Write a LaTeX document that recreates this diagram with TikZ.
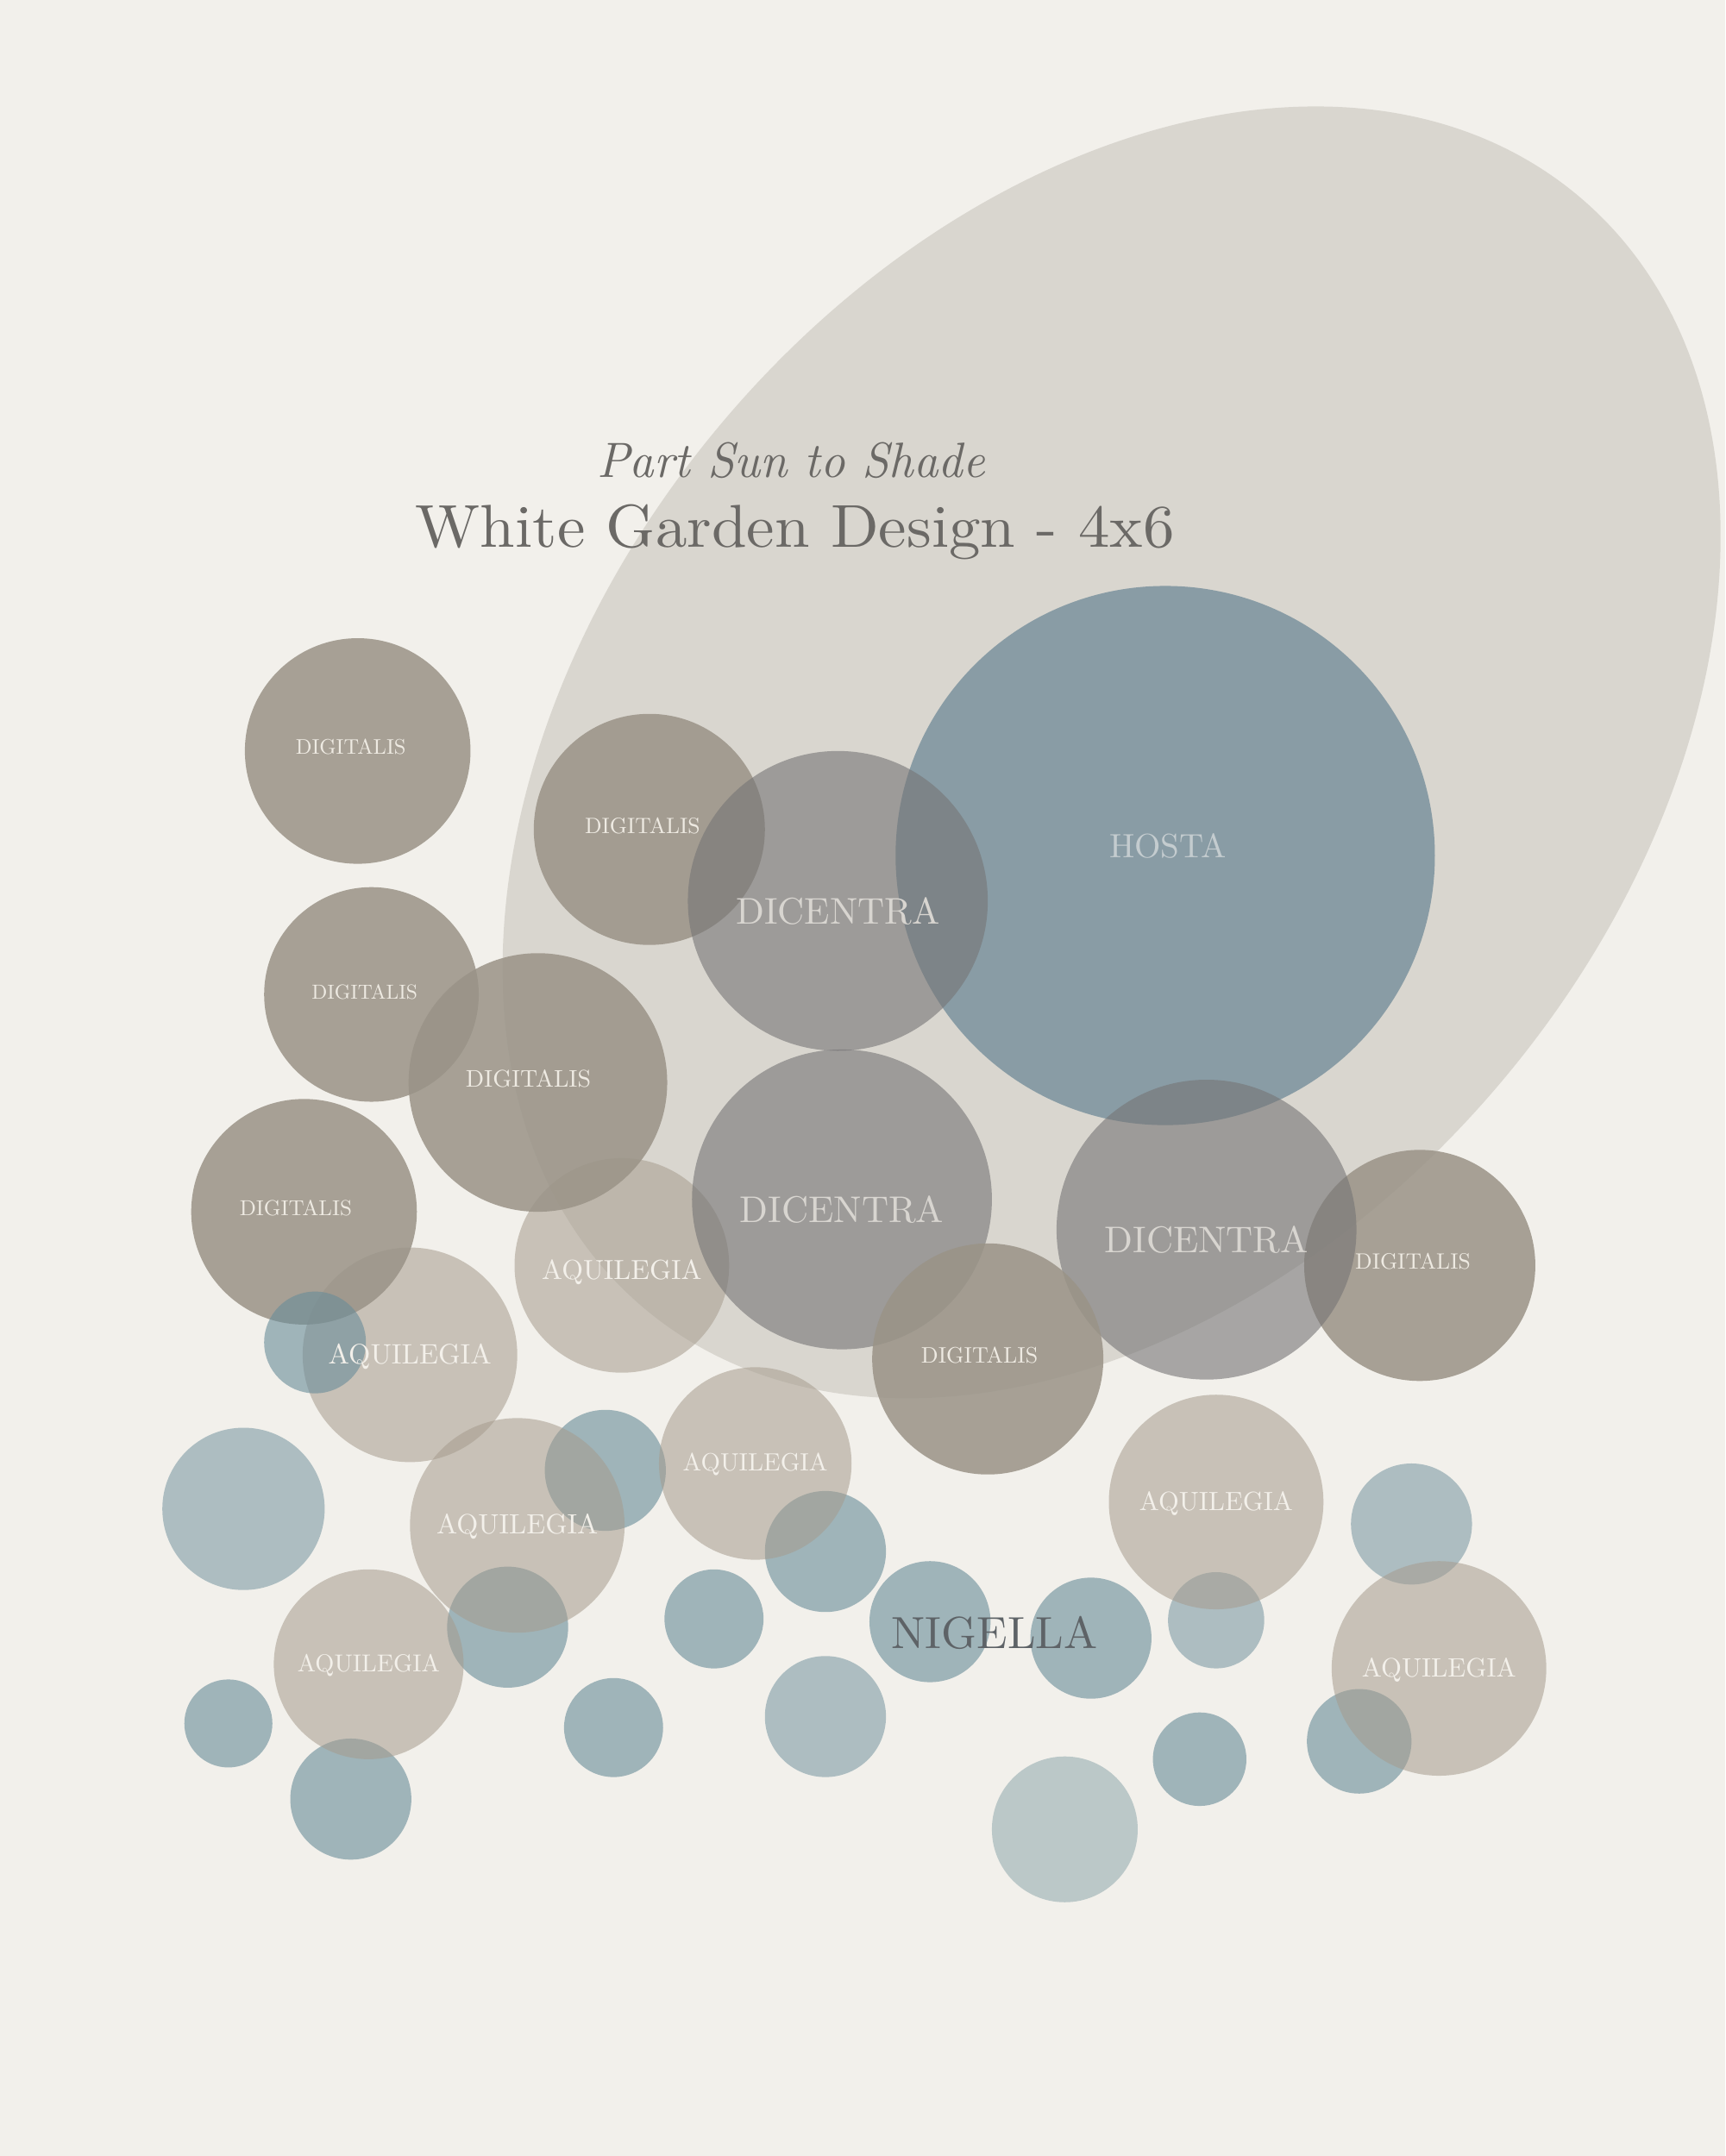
\documentclass[tikz,border=0pt]{standalone}
\usepackage{fontspec}
\setmainfont{lmroman10-regular.otf}[ItalicFont=lmroman10-italic.otf]
\definecolor{bgcol}{HTML}{F2F0EB}
\definecolor{ellcol}{HTML}{D9D6CF}
\definecolor{digicol}{RGB}{154,147,135}
\definecolor{diccol}{RGB}{117,116,117}
\definecolor{hostacol}{RGB}{124,147,158}
\definecolor{aqcol}{RGB}{166,156,142}
\definecolor{nigcol}{RGB}{105,140,153}
\definecolor{nigpale}{RGB}{112,145,152}
\definecolor{titlecol}{HTML}{6B6966}
\definecolor{digilabcol}{HTML}{EEEAE2}
\definecolor{diclabcol}{HTML}{D8D5D0}
\definecolor{hostalabcol}{HTML}{C4CCCF}
\definecolor{aqlabcol}{HTML}{F3F0EA}
\definecolor{niglabcol}{HTML}{5E6367}
\begin{document}
\begin{tikzpicture}[x=1pt,y=-1pt,
  digi/.style={fill=digicol, fill opacity=0.85},
  dic/.style={fill=diccol, fill opacity=0.6},
  hosta/.style={fill=hostacol, fill opacity=0.85},
  aqui/.style={fill=aqcol, fill opacity=0.55},
  nigdark/.style={fill=nigcol, fill opacity=0.6},
  niglight/.style={fill=nigcol, fill opacity=0.5},
  nigpalest/.style={fill=nigpale, fill opacity=0.42},
  lab/.style={inner sep=0pt, text depth=0pt, anchor=center},
  digilab/.style={lab, text=digilabcol},
  diclab/.style={lab, text=diclabcol, font=\fontsize{27}{27}\selectfont},
  aqlab/.style={lab, text=aqlabcol},
  titletext/.style={inner sep=0pt, anchor=base, text=titlecol}
]
\useasboundingbox (0,0) rectangle (1254,1567.5);
\fill[bgcol] (0,0) rectangle (1254,1567.5);
% large background ellipse
\fill[ellcol, rotate around={50:(808,547)}] (808,547) ellipse[x radius=528pt, y radius=371pt];

% Nigella (small blue circles)
\fill[niglight] (177,1097) circle[radius=59pt];
\fill[nigdark] (440,1069) circle[radius=44pt];
\fill[nigdark] (600,1128) circle[radius=44pt];
\fill[nigdark] (369,1183) circle[radius=44pt];
\fill[nigdark] (519,1177) circle[radius=36pt];
\fill[nigdark] (676,1179) circle[radius=44pt];
\fill[nigdark] (793,1191) circle[radius=44pt];
\fill[niglight] (884,1178) circle[radius=35pt];
\fill[niglight] (1026,1108) circle[radius=44pt];
\fill[nigdark] (166,1253) circle[radius=32pt];
\fill[nigdark] (255,1308) circle[radius=44pt];
\fill[nigdark] (446,1256) circle[radius=36pt];
\fill[niglight] (600,1248) circle[radius=44pt];
\fill[nigpalest] (774,1330) circle[radius=53pt];
\fill[nigdark] (872,1279) circle[radius=34pt];
\fill[nigdark] (988,1266) circle[radius=38pt];

% Aquilegia
\fill[aqui] (452,920) circle[radius=78pt];
\fill[aqui] (298,985) circle[radius=78pt];
\fill[aqui] (549,1064) circle[radius=70pt];
\fill[aqui] (376,1109) circle[radius=78pt];
\fill[aqui] (268,1210) circle[radius=69pt];
\fill[aqui] (884,1092) circle[radius=78pt];
\fill[aqui] (1046,1213) circle[radius=78pt];

% Digitalis
\fill[digi] (260,546) circle[radius=82pt];
\fill[digi] (472,603) circle[radius=84pt];
\fill[digi] (270,723) circle[radius=78pt];
\fill[digi] (391,787) circle[radius=94pt];
\fill[digi] (221,881) circle[radius=82pt];
\fill[digi] (1032,920) circle[radius=84pt];

\fill[nigdark] (229,976) circle[radius=37pt];

% Hosta
\fill[hosta] (847,622) circle[radius=196pt];

% Dicentra
\fill[dic] (609,655) circle[radius=109pt];
\fill[dic] (612,872) circle[radius=109pt];
\fill[dic] (877,894) circle[radius=109pt];

\fill[digi] (718,988) circle[radius=84pt];

% Labels
\node[digilab, font=\fontsize{15.4}{15.4}\selectfont] (dg1) at (255,543) {DIGITALIS};
\node[digilab, font=\fontsize{16.1}{16.1}\selectfont] (dg2) at (467,600) {DIGITALIS};
\node[digilab, font=\fontsize{14.8}{14.8}\selectfont] (dg3) at (265,721) {DIGITALIS};
\node[digilab, font=\fontsize{17.5}{17.5}\selectfont] (dg4) at (384,784) {DIGITALIS};
\node[digilab, font=\fontsize{15.7}{15.7}\selectfont] (dg5) at (215,878) {DIGITALIS};
\node[digilab, font=\fontsize{16.3}{16.3}\selectfont] (dg6) at (712,985) {DIGITALIS};
\node[digilab, font=\fontsize{16.1}{16.1}\selectfont] (dg7) at (1027,917) {DIGITALIS};

\node[diclab] (dc1) at (609,662) {DICENTRA};
\node[diclab] (dc2) at (612,879) {DICENTRA};
\node[diclab] (dc3) at (877,901) {DICENTRA};

\node[lab, text=hostalabcol, font=\fontsize{24.5}{24.5}\selectfont] (ho) at (849,615) {HOSTA};

\node[aqlab, font=\fontsize{20}{20}\selectfont] (aq1) at (452,923) {AQUILEGIA};
\node[aqlab, font=\fontsize{20.4}{20.4}\selectfont] (aq2) at (298,984) {AQUILEGIA};
\node[aqlab, font=\fontsize{18.1}{18.1}\selectfont] (aq3) at (549,1063) {AQUILEGIA};
\node[aqlab, font=\fontsize{20.2}{20.2}\selectfont] (aq4) at (376,1108) {AQUILEGIA};
\node[aqlab, font=\fontsize{17.8}{17.8}\selectfont] (aq5) at (268,1209) {AQUILEGIA};
\node[aqlab, font=\fontsize{19.2}{19.2}\selectfont] (aq6) at (884,1091) {AQUILEGIA};
\node[aqlab, font=\fontsize{19.3}{19.3}\selectfont] (aq7) at (1046,1212) {AQUILEGIA};

\node[lab, text=niglabcol, font=\fontsize{32.7}{32.7}\selectfont] (ng) at (723,1187) {NIGELLA};

% Title
\node[titletext, font=\fontsize{36}{36}\selectfont\itshape, xscale=0.97] (sub) at (575,347) {Part Sun to Shade};
\node[titletext, font=\fontsize{44}{44}\selectfont, xscale=1.04] (title) at (578,398) {White Garden Design - 4x6};
\end{tikzpicture}
\end{document}
